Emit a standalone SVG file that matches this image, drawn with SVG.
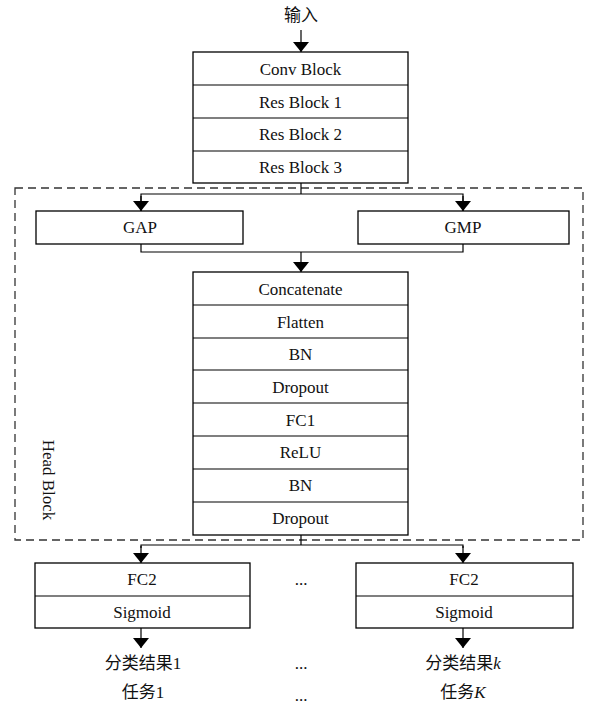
<svg xmlns="http://www.w3.org/2000/svg" width="597" height="705" viewBox="0 0 597 705">
<style>
.box{fill:#fff;stroke:#000;stroke-width:1.3}
.ln{fill:none;stroke:#000;stroke-width:1.2}
.t{font-family:"Liberation Serif","Noto Sans CJK SC",serif;font-size:17px;fill:#111;text-anchor:middle;dominant-baseline:central}
.dash{fill:none;stroke:#333;stroke-width:1.3;stroke-dasharray:8,5}
</style>
<defs>
<marker id="ar" viewBox="0 0 10 16" refX="10" refY="8" markerWidth="10" markerHeight="16" markerUnits="userSpaceOnUse" orient="auto">
<path d="M0,0 L10,8 L0,16 Z" fill="#000"/>
</marker>
</defs>
<rect width="597" height="705" fill="#fff"/>
<rect id="headblock" class="dash" x="15" y="188" width="568" height="352"/>
<text class="t" transform="translate(48,480) rotate(90)">Head Block</text>
<g id="connectors">
<line class="ln" x1="301" y1="30" x2="301" y2="52" marker-end="url(#ar)"/>
<polyline class="ln" points="301,183 301,194"/>
<polyline class="ln" points="141,211 141,194 463,194 463,211" />
<line class="ln" x1="141" y1="196" x2="141" y2="211" marker-end="url(#ar)"/>
<line class="ln" x1="463" y1="196" x2="463" y2="211" marker-end="url(#ar)"/>
<polyline class="ln" points="141,244 141,252 463,252 463,244"/>
<line class="ln" x1="301" y1="252" x2="301" y2="272" marker-end="url(#ar)"/>
<polyline class="ln" points="301,535 301,545"/>
<polyline class="ln" points="141,548 141,545 463,545 463,548"/>
<line class="ln" x1="141" y1="546" x2="141" y2="563" marker-end="url(#ar)"/>
<line class="ln" x1="463" y1="546" x2="463" y2="563" marker-end="url(#ar)"/>
<line class="ln" x1="141" y1="628" x2="141" y2="648" marker-end="url(#ar)"/>
<line class="ln" x1="463" y1="628" x2="463" y2="648" marker-end="url(#ar)"/>
</g>
<g id="input"><text class="t" x="301" y="15">输入</text></g>
<g id="backbone">
<rect class="box" x="193" y="52" width="215" height="131"/>
<line class="ln" x1="193" y1="85" x2="408" y2="85"/>
<line class="ln" x1="193" y1="118" x2="408" y2="118"/>
<line class="ln" x1="193" y1="151" x2="408" y2="151"/>
<text class="t" x="300.5" y="69">Conv Block</text>
<text class="t" x="300.5" y="102">Res Block 1</text>
<text class="t" x="300.5" y="134">Res Block 2</text>
<text class="t" x="300.5" y="167">Res Block 3</text>
</g>
<g id="gap">
<rect class="box" x="36" y="211" width="207" height="33"/>
<text class="t" x="140" y="227.5">GAP</text>
</g>
<g id="gmp">
<rect class="box" x="358" y="211" width="211" height="33"/>
<text class="t" x="463" y="227.5">GMP</text>
</g>
<g id="head">
<rect class="box" x="193" y="272" width="215" height="263"/>
<line class="ln" x1="193" y1="305" x2="408" y2="305"/>
<line class="ln" x1="193" y1="338" x2="408" y2="338"/>
<line class="ln" x1="193" y1="370" x2="408" y2="370"/>
<line class="ln" x1="193" y1="403" x2="408" y2="403"/>
<line class="ln" x1="193" y1="436" x2="408" y2="436"/>
<line class="ln" x1="193" y1="469" x2="408" y2="469"/>
<line class="ln" x1="193" y1="502" x2="408" y2="502"/>
<text class="t" x="300.5" y="289">Concatenate</text>
<text class="t" x="300.5" y="322">Flatten</text>
<text class="t" x="300.5" y="354">BN</text>
<text class="t" x="300.5" y="387">Dropout</text>
<text class="t" x="300.5" y="420">FC1</text>
<text class="t" x="300.5" y="452">ReLU</text>
<text class="t" x="300.5" y="485">BN</text>
<text class="t" x="300.5" y="518">Dropout</text>
</g>
<g id="task1">
<rect class="box" x="35" y="563" width="215" height="65"/>
<line class="ln" x1="35" y1="596" x2="250" y2="596"/>
<text class="t" x="142" y="579">FC2</text>
<text class="t" x="142" y="612">Sigmoid</text>
</g>
<g id="taskK">
<rect class="box" x="356" y="563" width="217" height="65"/>
<line class="ln" x1="356" y1="596" x2="573" y2="596"/>
<text class="t" x="464" y="579">FC2</text>
<text class="t" x="464" y="612">Sigmoid</text>
</g>
<g id="labels">
<text class="t" x="301" y="579">...</text>
<text class="t" x="301" y="663">...</text>
<text class="t" x="301" y="695">...</text>
<text class="t" x="143" y="663">分类结果1</text>
<text class="t" x="143" y="692">任务1</text>
<text class="t" x="463" y="663">分类结果<tspan font-style="italic">k</tspan></text>
<text class="t" x="463" y="692">任务<tspan font-style="italic">K</tspan></text>
</g>
</svg>
